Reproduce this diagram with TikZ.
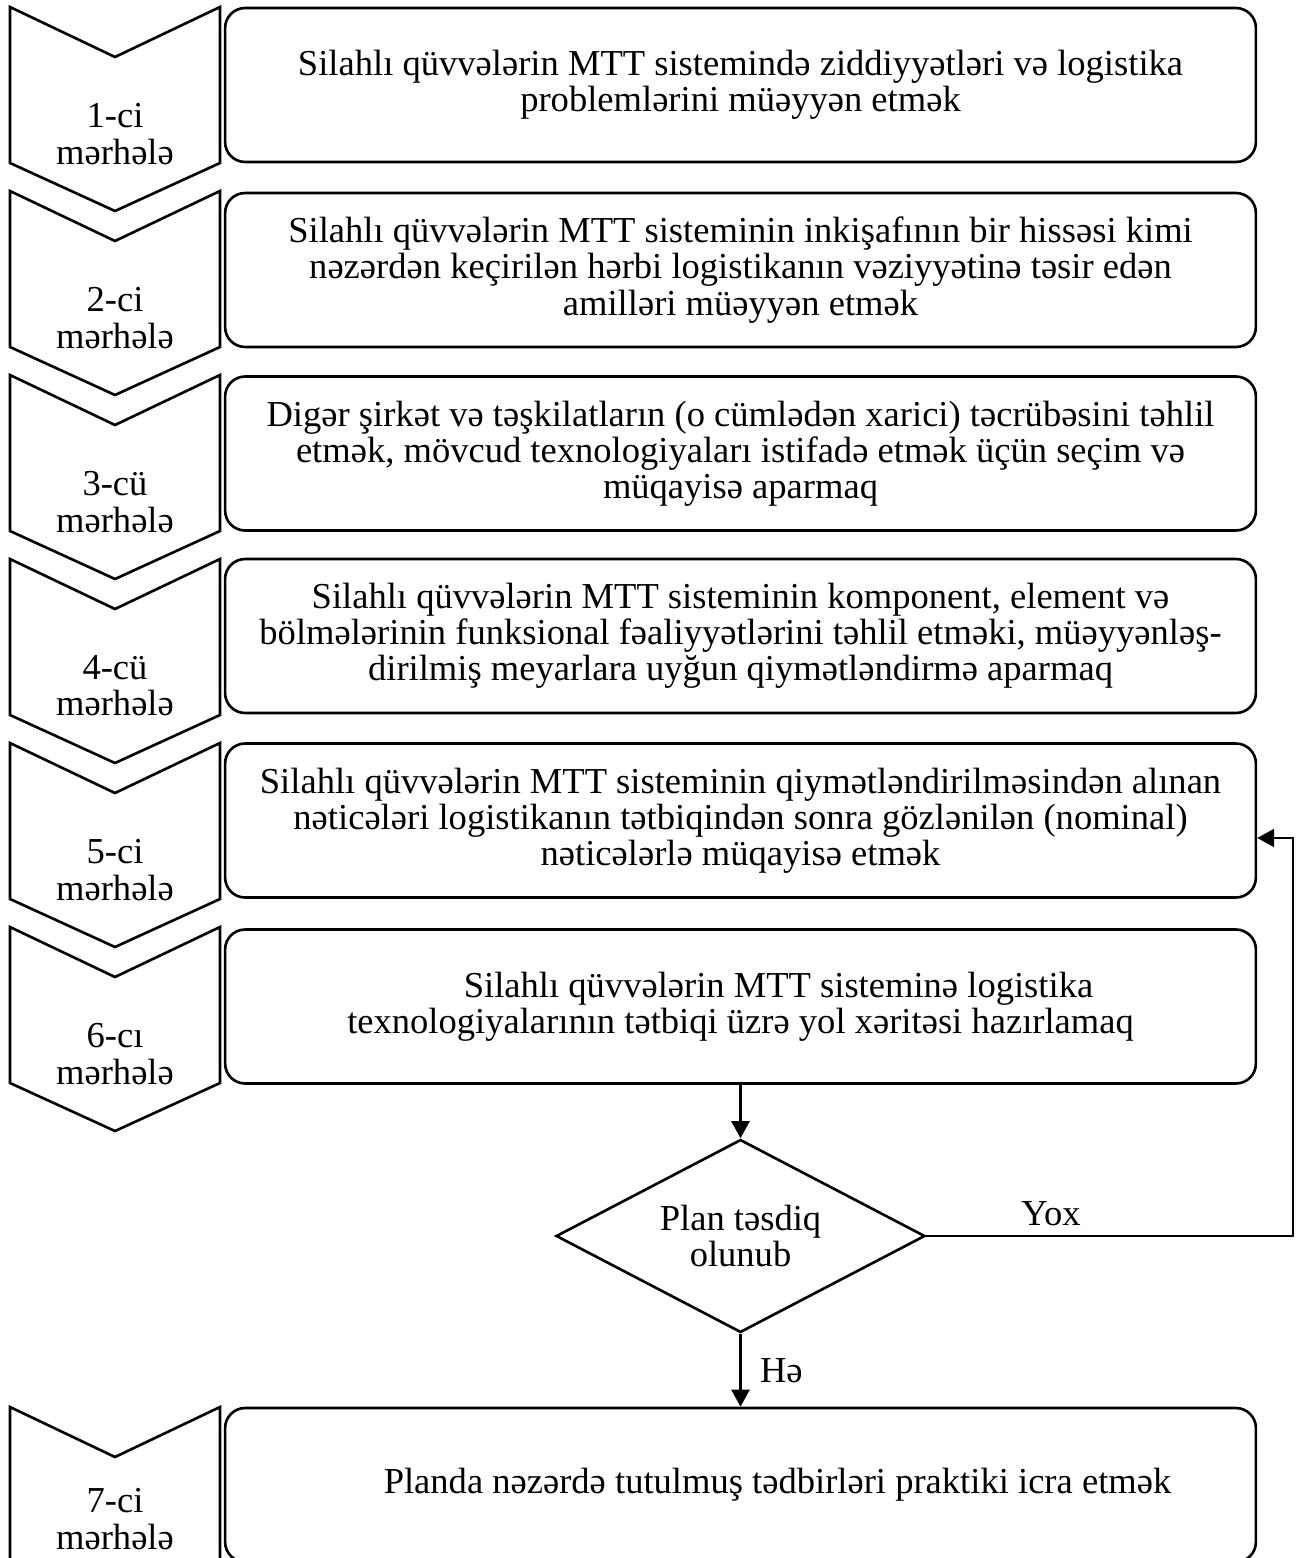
\documentclass[tikz,border=0pt]{standalone}
\usepackage{fontspec}
\setmainfont{Liberation Serif}
\usepackage{tikz}
\usetikzlibrary{arrows.meta,positioning,shapes.geometric}
\tikzset{stagebox/.style={draw,line width=1.5pt,rounded corners=0.4cm,minimum width=20.62cm,minimum height=3.08cm,align=center,inner sep=0},
    chevron/.style={draw,line width=1.5pt,line join=miter},
    stagelabel/.style={align=center,inner sep=0},
    decision/.style={draw,diamond,aspect=1.9,line width=1.5pt,minimum width=7.38cm,minimum height=3.86cm,align=center,inner sep=0},
    flowarrow/.style={line width=1.4pt,-{Triangle[length=0.34cm,width=0.36cm]}}
}
\newcommand{\stagechevron}[3]
{
% args: (name, y of the top corners, label)
    \draw [chevron] (10,#2) -- (115,#2+50) -- (220,#2) -- (220,#2+156) -- (115,#2+204) -- (10,#2+156) -- cycle;
    \node (#1) [stagelabel] at (115,#2+127) {#3};
}

\begin{document}
\begin{tikzpicture}[x=0.02cm,y=-0.02cm,every node/.append style={font=\fontsize{20.8}{20.6}\selectfont}]
\useasboundingbox (0,0) rectangle (1296,1558);

\stagechevron{stage1}{7}{1-ci\\mərhələ}
\stagechevron{stage2}{191}{2-ci\\mərhələ}
\stagechevron{stage3}{375}{3-cü\\mərhələ}
\stagechevron{stage4}{559}{4-cü\\mərhələ}
\stagechevron{stage5}{743}{5-ci\\mərhələ}
\stagechevron{stage6}{927}{6-cı\\mərhələ}

% last stage runs off the page
\draw [chevron] (10,1575) -- (10,1407) -- (115,1457) -- (220,1407) -- (220,1575);
\node (stage7) [stagelabel] at (115,1519) {7-ci\\mərhələ};

\node (box1) [stagebox] at (740.5,85) {Silahlı qüvvələrin MTT sistemində ziddiyyətləri və logistika\\problemlərini müəyyən etmək};
\node (box2) [stagebox] at (740.5,270) {Silahlı qüvvələrin MTT sisteminin inkişafının bir hissəsi kimi\\nəzərdən keçirilən hərbi logistikanın vəziyyətinə təsir edən\\amilləri müəyyən etmək};
\node (box3) [stagebox] at (740.5,453.5) {Digər şirkət və təşkilatların (o cümlədən xarici) təcrübəsini təhlil\\etmək, mövcud texnologiyaları istifadə etmək üçün seçim və\\müqayisə aparmaq};
\node (box4) [stagebox] at (740.5,636) {Silahlı qüvvələrin MTT sisteminin komponent, element və\\bölmələrinin funksional fəaliyyətlərini təhlil etməki, müəyyənləş-\\dirilmiş meyarlara uyğun qiymətləndirmə aparmaq};
\node (box5) [stagebox] at (740.5,820.5) {Silahlı qüvvələrin MTT sisteminin qiymətləndirilməsindən alınan\\nəticələri logistikanın tətbiqindən sonra gözlənilən (nominal)\\nəticələrlə müqayisə etmək};
\node (box6) [stagebox] at (740.5,1006.5) {\hspace*{1.52cm}Silahlı qüvvələrin MTT sisteminə logistika\\texnologiyalarının tətbiqi üzrə yol xəritəsi hazırlamaq};
\node (box7) [stagebox] at (740.5,1485) {\hspace*{1.48cm}Planda nəzərdə tutulmuş tədbirləri praktiki icra etmək};

\node (dec) [decision] at (740.5,1236) {Plan təsdiq\\olunub};

\draw [flowarrow] (box6) -- (dec);
\draw [flowarrow] (dec) -- node [right=0.25cm] (yes) {Hə} (box7);

% back to stage 5
\coordinate (back) at (1293,838);
\draw [flowarrow] (dec.east) -| node [pos=0.17,above=2pt] (no) {Yox} (back) -- (back -| box5.east);

\end{tikzpicture}
\end{document}
